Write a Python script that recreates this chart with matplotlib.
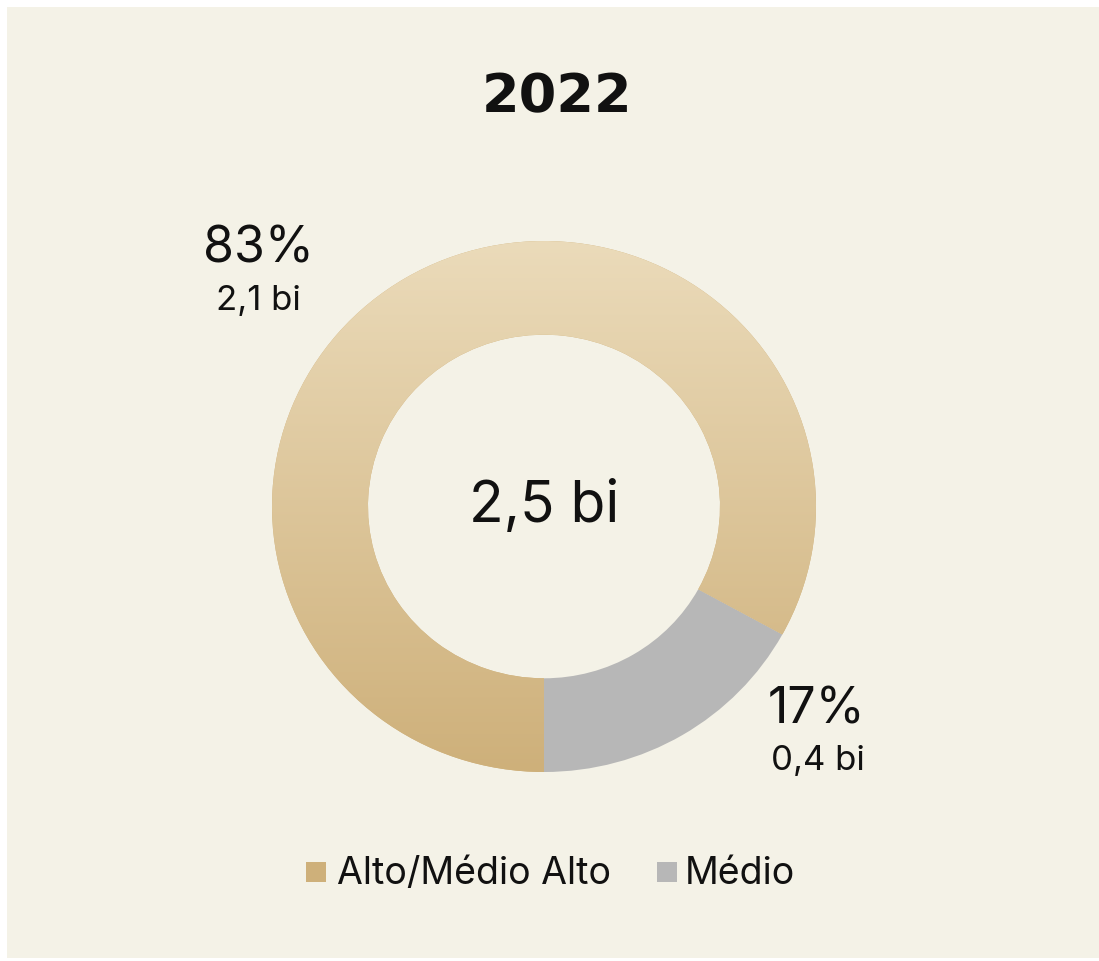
import matplotlib
matplotlib.use("Agg")
import matplotlib.pyplot as plt
import numpy as np
from matplotlib.patches import Rectangle
from matplotlib.colors import LinearSegmentedColormap

title = "2022"
categories = ["Alto/Médio Alto", "Médio"]
shares = [83, 17]
values_bi = ["2,1 bi", "0,4 bi"]
total_label = "2,5 bi"

W, H = 1099, 961
KY = 265.5 / 272.0  # slight vertical squash of the reference image
fig = plt.figure(figsize=(W / 100, H / 100), dpi=100)
fig.patch.set_facecolor("white")
ax = fig.add_axes([0, 0, 1, 1])

bg = "#F4F2E7"
gold_top, gold_bot = "#EBDBBA", "#CEB07A"
grey = "#B7B7B7"

def Y(ypx):
    return (H - ypx) / KY

cx, cy, R, ring = 544, Y(506.5), 272, 96

wedges, _ = ax.pie([shares[1], shares[0]], startangle=-90, counterclock=True,
                   colors=[grey, gold_bot], center=(cx, cy), radius=R,
                   wedgeprops=dict(width=ring, linewidth=0))
gold_wedge = wedges[1]

ax.add_patch(Rectangle((7, Y(958)), W - 7, (H - 10) / KY, facecolor=bg,
                       edgecolor="none", zorder=0))

cmap = LinearSegmentedColormap.from_list("g", [gold_bot, gold_top])
grad = np.linspace(0, 1, 256).reshape(-1, 1)
im = ax.imshow(grad, cmap=cmap, origin="lower", aspect="auto",
               extent=(cx - R, cx + R, cy - R, cy + R), zorder=2)
im.set_clip_path(gold_wedge)

ax.set_xlim(0, W)
ax.set_ylim(0, H / KY)
ax.set_aspect("auto")
ax.axis("off")

fam = ["Inter", "DejaVu Sans"]
ink = "#111111"
ax.text(557, Y(97), title, ha="center", va="center", fontsize=39,
        fontweight="bold", family=["DejaVu Sans"], color=ink)
ax.text(544, Y(507), total_label, ha="center", va="center", fontsize=41,
        family=fam, color=ink)

ax.text(258, Y(249), f"{shares[0]}%", ha="center", va="center", fontsize=36,
        family=fam, color=ink)
ax.text(258, Y(301), values_bi[0], ha="center", va="center", fontsize=25,
        family=fam, color=ink)
ax.text(817, Y(710), f"{shares[1]}%", ha="center", va="center", fontsize=36,
        family=fam, color=ink)
ax.text(818, Y(761), values_bi[1], ha="center", va="center", fontsize=25,
        family=fam, color=ink)

sq = 20
ax.add_patch(Rectangle((306, Y(882)), sq, sq / KY, facecolor=gold_bot, edgecolor="none"))
ax.text(337, Y(874), categories[0], ha="left", va="center", fontsize=27,
        family=fam, color=ink)
ax.add_patch(Rectangle((657, Y(882)), sq, sq / KY, facecolor=grey, edgecolor="none"))
ax.text(685, Y(874), categories[1], ha="left", va="center", fontsize=27,
        family=fam, color=ink)

fig.savefig("out.png", dpi=100, facecolor=fig.get_facecolor())
